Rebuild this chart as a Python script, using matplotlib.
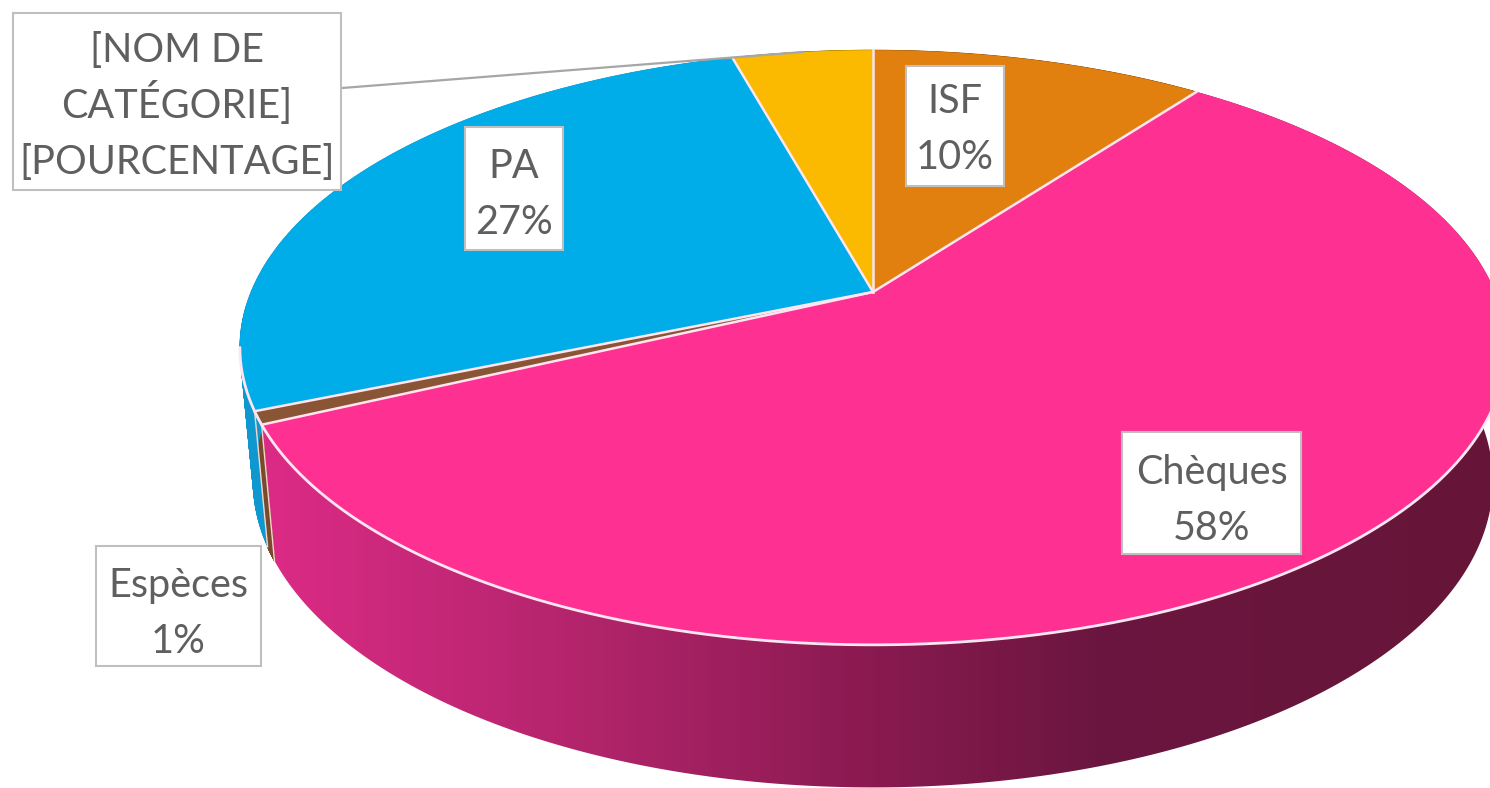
import numpy as np
import matplotlib
matplotlib.use("Agg")
import matplotlib.pyplot as plt
from matplotlib.collections import PolyCollection
from matplotlib.colors import LinearSegmentedColormap
from matplotlib.patches import Polygon, Rectangle

# slices, clockwise from 12 o'clock
categories = ["ISF", "Chèques", "Espèces", "PA", "[NOM DE CATÉGORIE]"]
values = [10.2, 57.8, 0.7, 27.0, 4.3]
top_colors = ["#e2800f", "#fe3193", "#8a5535", "#00ade9", "#fbba00"]
wall_colors = ["#8a4f0a", None, "#7a4a2e", "#0f97cf", "#9c7400"]
# only the big slice has a shaded wall, left to right across the picture
shade_stops = [0, 0.275, 0.495, 0.68, 1]
shade_colors = ["#dc2b86", "#b0246a", "#8a1a50", "#6b1640", "#661538"]

# label lines
label_lines = [
    ["ISF", "10%"],
    ["Chèques", "58%"],
    ["Espèces", "1%"],
    ["PA", "27%"],
    ["[NOM DE", "CATÉGORIE]", "[POURCENTAGE]"],
]
# box left, top, right, bottom and first baseline, in pixels
label_boxes = [
    (906, 66, 1004, 186, 113),
    (1122, 432, 1301, 554, 484),
    (96, 546, 261, 666, 597),
    (465, 127, 563, 250, 178),
    (13, 13, 341, 190, 62),
]
line_step = 56

W, H = 1490, 788
# perspective of the disc
cx, cy = 873, 292
A, B, k = 622, 287, -0.1866
# bottom disc
sx, sy, cy2 = 0.979, 1.03, 424
rim_color = "#fde6f1"


def top_pt(t):
    u, v = np.sin(t), -np.cos(t)
    d = 1 + k * v
    return cx + A * u / d, cy + B * v / d


def bot_pt(t):
    u, v = np.sin(t), -np.cos(t)
    d = 1 + k * v
    return cx + sx * A * u / d, cy2 + sy * B * v / d


fig = plt.figure(figsize=(W / 100, H / 100), dpi=100)
ax = fig.add_axes([0, 0, 1, 1])
ax.set_xlim(0, W)
ax.set_ylim(H, 0)
ax.axis("off")

edges = np.cumsum([0] + values) / sum(values) * 2 * np.pi

# side walls first
for i in range(len(values)):
    t = np.linspace(edges[i], edges[i + 1], 300)
    tx, ty = top_pt(t)
    bx, by = bot_pt(t)
    if wall_colors[i] is None:
        cmap = LinearSegmentedColormap.from_list("wall", list(zip(shade_stops, shade_colors)))
        grad = np.linspace(0, 1, 1024).reshape(1, -1)
        im = ax.imshow(grad, cmap=cmap, extent=(262, W, H, 0), aspect="auto", zorder=1)
        pts = np.r_[np.c_[tx, ty], np.c_[bx, by][::-1]]
        im.set_clip_path(Polygon(pts, transform=ax.transData))
    else:
        strips = [[(tx[j], ty[j]), (tx[j + 1], ty[j + 1]), (bx[j + 1], by[j + 1]), (bx[j], by[j])]
                  for j in range(len(t) - 1)]
        ax.add_collection(PolyCollection(strips, facecolors=wall_colors[i],
                                         edgecolors=wall_colors[i], lw=0.5, zorder=1))
ax.set_xlim(0, W)
ax.set_ylim(H, 0)

# pale lines between the walls
for e in edges:
    if np.pi / 2 < e < 1.55 * np.pi:
        tx, ty = top_pt(e)
        bx, by = bot_pt(e)
        ax.plot([tx, bx], [ty, by], color="#f6d6c8", lw=1.0, zorder=2)

# top face
for i in range(len(values)):
    t = np.linspace(edges[i], edges[i + 1], 300)
    tx, ty = top_pt(t)
    pts = np.r_[[[cx, cy]], np.c_[tx, ty]]
    ax.add_patch(Polygon(pts, closed=True, facecolor=top_colors[i], edgecolor="none", zorder=3))

# white spokes and the front rim
for e in edges[:-1]:
    tx, ty = top_pt(e)
    ax.plot([cx, tx], [cy, ty], color=rim_color, lw=1.8, zorder=4)
tx, ty = top_pt(np.radians(np.linspace(100.8, 259.2, 400)))
ax.plot(tx, ty, color=rim_color, lw=2.0, zorder=4)

# leader line of the unnamed slice
ax.plot([342, 803], [88, 52], color="#a6a6a6", lw=1.6, zorder=4)

# labels
for lines, (l, t, r, b, base) in zip(label_lines, label_boxes):
    ax.add_patch(Rectangle((l, t), r - l, b - t, facecolor="white", edgecolor="#bfbfbf",
                           lw=1.5, zorder=5))
    for n, line in enumerate(lines):
        ax.text((l + r) / 2, base + n * line_step, line, ha="center", va="baseline",
                color="#5f5f5f", family="Lato", fontsize=28.5, zorder=6)

fig.savefig("out.png", dpi=100)
